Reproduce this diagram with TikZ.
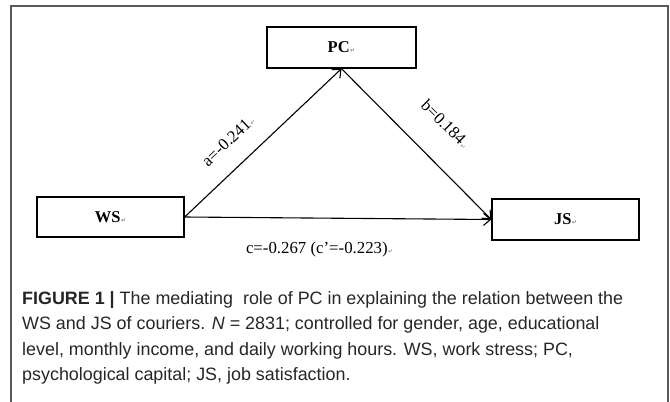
\documentclass[tikz,border=0pt]{standalone}
\usepackage{fontspec}
\setmainfont{Liberation Serif}
\newfontfamily\capfont{Liberation Sans}
\newfontfamily\symfont{DejaVu Sans}
\usetikzlibrary{positioning,arrows.meta}

\newcommand{\pmark}{\kern0.5pt{\symfont\color{gray}\fontsize{6}{6}\selectfont ↵}}

\begin{document}
\begin{tikzpicture}[x=1pt,y=-1pt,
  >={Straight Barb[length=7pt,width=12pt]},
  box/.style={draw,line width=1.3pt,minimum width=147pt,minimum height=40pt,
    inner sep=0pt,font=\fontsize{16.5}{16.5}\selectfont\bfseries},
  lbl/.style={font=\fontsize{16.8}{16.8}\selectfont}]

\useasboundingbox (0,0) rectangle (670,402);

% outer frame
\draw[black!65,line width=1.4pt] (11,402) -- (11,6) -- (668,6) -- (668,402);

\node[box,minimum width=149pt,minimum height=41pt] (pc) at (341.5,47.5) {PC\pmark};

\node[box] (ws) at (110.5,217) {WS\pmark};

\node[box,minimum height=41pt] (js) at (565.5,219.5) {JS\pmark};

\draw[line width=1.1pt]

  % From WS to PC
  (ws.east) edge[->] node[lbl,sloped,pos=0.39,above=16pt] {a=-0.241\pmark} (pc.south)

  % From PC to JS
  (pc.south) edge[->] node[lbl,sloped,pos=0.53,above=25pt] {b=0.184\pmark} (js.west)

  % From WS to JS
  (ws.east) edge[->] node[lbl,pos=0.44,below=20pt] {c=-0.267 (c’=-0.223)\pmark} (js.west)
;

% caption
\node[anchor=north west,align=left,inner sep=0pt,text=black!85,
  font=\capfont\fontsize{17.9}{25.6}\selectfont] (cap) at (22,291)
  {\textbf{FIGURE 1 |} The mediating\ \ role of PC in explaining the relation between the\\
   WS and JS of couriers. \textit{N} = 2831; controlled for gender, age, educational\\
   level, monthly income, and daily working hours. WS, work stress; PC,\\
   psychological capital; JS, job satisfaction.};

\end{tikzpicture}
\end{document}
